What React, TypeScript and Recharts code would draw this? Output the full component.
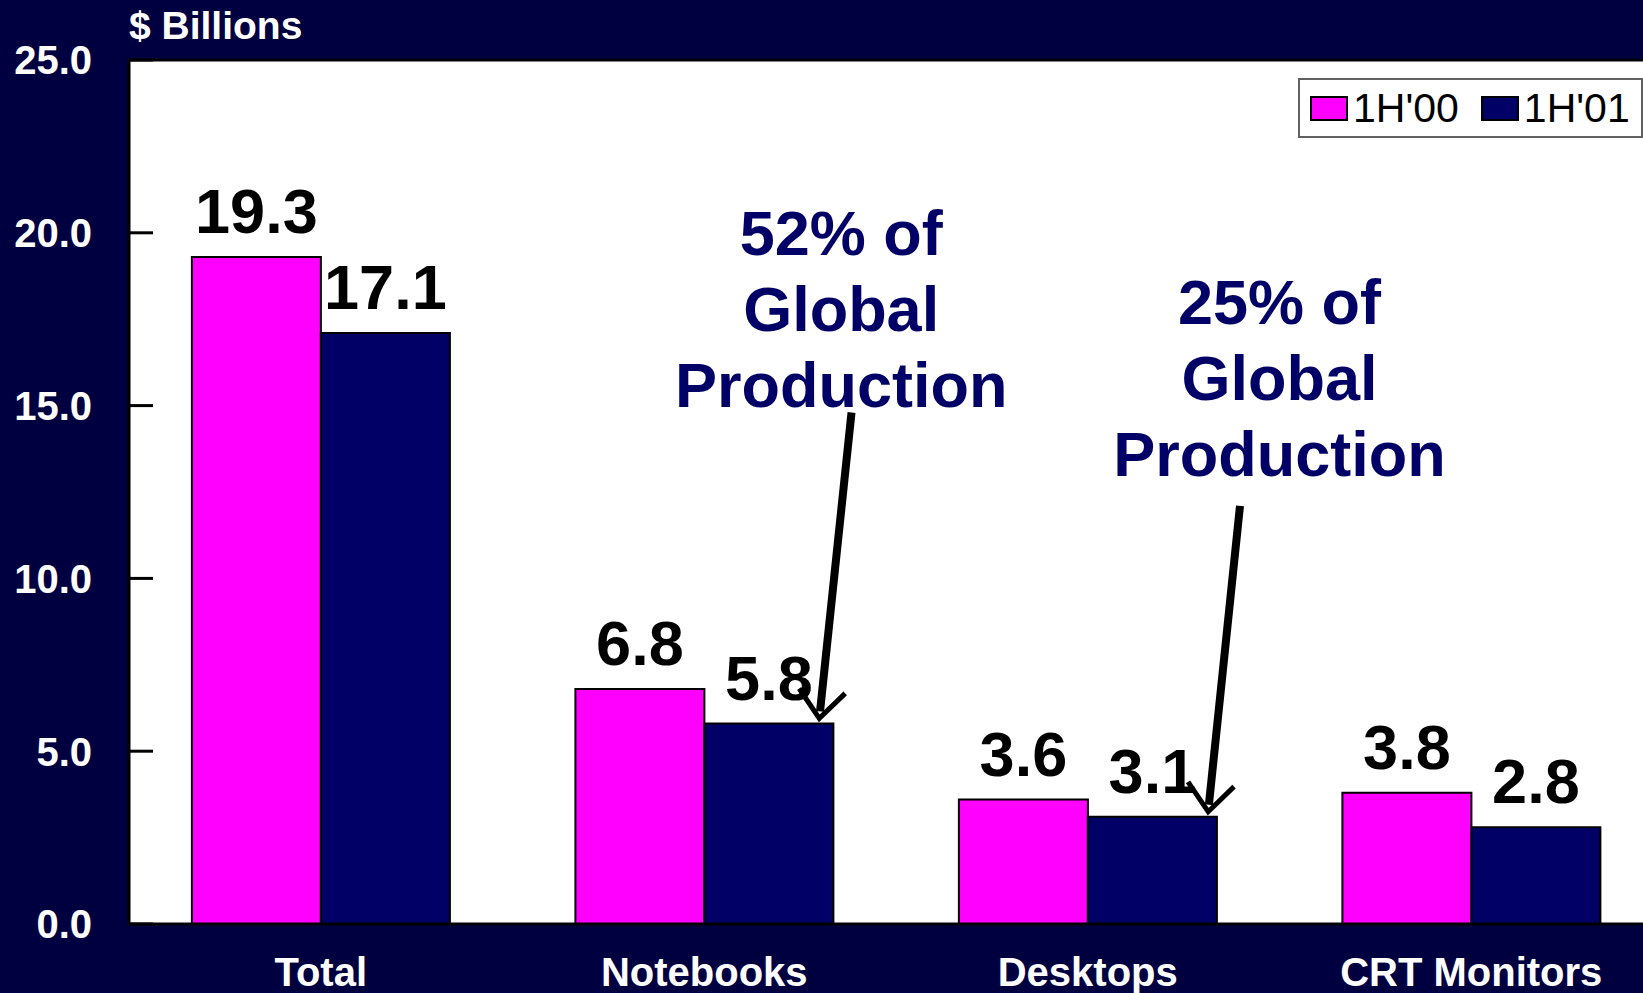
import React from 'react';
import {
  BarChart,
  Bar,
  XAxis,
  YAxis,
  CartesianGrid,
  ReferenceLine,
  ReferenceDot,
  LabelList,
  Legend,
} from 'recharts';

const categories = ['Total', 'Notebooks', 'Desktops', 'CRT Monitors'];
const firstHalf00 = [19.3, 6.8, 3.6, 3.8];
const firstHalf01 = [17.1, 5.8, 3.1, 2.8];
const seriesNames = ["1H'00", "1H'01"];
const seriesColors = ['#FF00FF', '#000066'];
const yTicks = [0, 5, 10, 15, 20, 25];

// callouts: anchored on a category, dx = shift from band centre in band widths, y in $B
const callouts = [
  { pct: '52%', cat: 'Notebooks', dx: 0.357, y: 19.35, from: { dx: 0.384, y: 14.8 }, to: { dx: 0.3, y: 5.95 } },
  { pct: '25%', cat: 'Desktops', dx: 0.5, y: 17.35, from: { dx: 0.397, y: 12.1 }, to: { dx: 0.314, y: 3.25 } },
];

const data = categories.map((name, i) => ({
  name,
  a: firstHalf00[i],
  b: firstHalf01[i],
}));

const CHART_W = 1663;
const CHART_H = 993;
const Y_W = 129;
const BAND = (CHART_W - Y_W) / categories.length;

const FONT = '"Liberation Sans", Arial, sans-serif';
const BG = '#000040';

const YTick = (p: any) => {
  const { x, y, payload } = p;
  return (
    <g>
      <line x1={x} x2={x + 24} y1={y} y2={y} stroke="#000" strokeWidth={3} />
      <text
        x={x - 37}
        y={y}
        dy="0.36em"
        textAnchor="end"
        fill="#fff"
        fontSize={40}
        fontWeight="bold"
        fontFamily={FONT}
      >
        {Number(payload.value).toFixed(1)}
      </text>
    </g>
  );
};

const makeArrow = (dx1: number, dx2: number) => (p: any) => {
  const x1 = p.x1 + dx1 * BAND;
  const x2 = p.x2 + dx2 * BAND;
  const { y1, y2 } = p;
  const ang = Math.atan2(y2 - y1, x2 - x1);
  const len = 36;
  const spread = Math.PI / 4.5;
  const a1 = ang + Math.PI - spread;
  const a2 = ang + Math.PI + spread;
  // stop the thick shaft a little short so it doesn't poke through the tip
  const sx = x2 - 7 * Math.cos(ang);
  const sy = y2 - 7 * Math.sin(ang);
  return (
    <g>
      <line x1={x1} y1={y1} x2={sx} y2={sy} stroke="#000" strokeWidth={8} />
      <polyline
        points={`${x2 + len * Math.cos(a1)},${y2 + len * Math.sin(a1)} ${x2},${y2} ${x2 + len * Math.cos(a2)},${y2 + len * Math.sin(a2)}`}
        fill="none"
        stroke="#000"
        strokeWidth={5}
      />
    </g>
  );
};

const calloutText = (pct: string, dx: number) => (p: any) => {
  const cx = p.cx + dx * BAND;
  return (
    <text
      x={cx}
      y={p.cy}
      textAnchor="middle"
      fill="#000066"
      fontSize={63}
      fontWeight="bold"
      fontFamily={FONT}
    >
      <tspan x={cx} dy={0}>{`${pct} of`}</tspan>
      <tspan x={cx} dy={76}>Global</tspan>
      <tspan x={cx} dy={76}>Production</tspan>
    </text>
  );
};

const LegendBox = () => (
  <div
    style={{
      boxSizing: 'border-box',
      width: 345,
      height: 60,
      background: '#fff',
      border: '2px solid #606060',
      display: 'flex',
      alignItems: 'center',
      fontFamily: FONT,
      fontSize: 41,
      color: '#000',
      whiteSpace: 'nowrap',
    }}
  >
    {seriesNames.map((s, i) => (
      <div key={s} style={{ display: 'flex', alignItems: 'center', marginLeft: i === 0 ? 10 : 22 }}>
        <span
          style={{
            display: 'inline-block',
            boxSizing: 'border-box',
            width: 38,
            height: 25,
            background: seriesColors[i],
            border: '2px solid #000',
            marginRight: 5,
          }}
        />
        <span style={{ lineHeight: '40px' }}>{s}</span>
      </div>
    ))}
  </div>
);

export default function App() {
  return (
    <div
      style={{
        position: 'absolute',
        left: 0,
        top: 0,
        width: 1643,
        height: 993,
        overflow: 'hidden',
        background: BG,
        fontFamily: FONT,
      }}
    >
      <BarChart
        width={CHART_W}
        height={CHART_H}
        data={data}
        margin={{ top: 60, right: 0, bottom: 0, left: 0 }}
        barCategoryGap="16.4%"
        barGap={0}
      >
        <CartesianGrid horizontal={false} vertical={false} fill="#fff" fillOpacity={1} stroke="none" />
        <XAxis
          dataKey="name"
          interval={0}
          height={69}
          tickLine={false}
          tickSize={0}
          tickMargin={34}
          axisLine={{ stroke: '#000', strokeWidth: 3 }}
          tick={{ fill: '#fff', fontSize: 40, fontWeight: 'bold', fontFamily: FONT }}
        />
        <YAxis
          width={Y_W}
          domain={[0, 25]}
          ticks={yTicks}
          interval={0}
          tickLine={false}
          tickSize={0}
          tickMargin={0}
          axisLine={{ stroke: '#000', strokeWidth: 3 }}
          tick={<YTick />}
          label={{
            content: (p: any) => (
              <text
                x={p.viewBox.x + p.viewBox.width}
                y={p.viewBox.y - 21}
                fill="#fff"
                fontSize={39}
                fontWeight="bold"
                fontFamily={FONT}
              >
                $ Billions
              </text>
            ),
          }}
        />
        <ReferenceLine y={25} stroke="#000" strokeWidth={3} />
        <Legend
          layout="horizontal"
          verticalAlign="middle"
          align="center"
          content={() => <LegendBox />}
          wrapperStyle={{ left: 1298, top: 78, width: 345, height: 60 }}
        />
        <Bar dataKey="a" name={seriesNames[0]} fill={seriesColors[0]} stroke="#000" strokeWidth={2} isAnimationActive={false}>
          <LabelList
            dataKey="a"
            position="top"
            offset={24}
            fill="#000"
            fontSize={63}
            fontWeight="bold"
            fontFamily={FONT}
            formatter={(v: any) => Number(v).toFixed(1)}
          />
        </Bar>
        <Bar dataKey="b" name={seriesNames[1]} fill={seriesColors[1]} stroke="#000" strokeWidth={2} isAnimationActive={false}>
          <LabelList
            dataKey="b"
            position="top"
            offset={24}
            fill="#000"
            fontSize={63}
            fontWeight="bold"
            fontFamily={FONT}
            formatter={(v: any) => Number(v).toFixed(1)}
          />
        </Bar>
        {callouts.map((c) => (
          <ReferenceDot
            key={c.pct + 'txt'}
            x={c.cat}
            y={c.y}
            r={0}
            shape={calloutText(c.pct, c.dx)}
          />
        ))}
        {callouts.map((c) => (
          <ReferenceLine
            key={c.pct + 'arrow'}
            segment={[
              { x: c.cat, y: c.from.y },
              { x: c.cat, y: c.to.y },
            ]}
            stroke="#000"
            shape={makeArrow(c.from.dx, c.to.dx)}
          />
        ))}
      </BarChart>
    </div>
  );
}
